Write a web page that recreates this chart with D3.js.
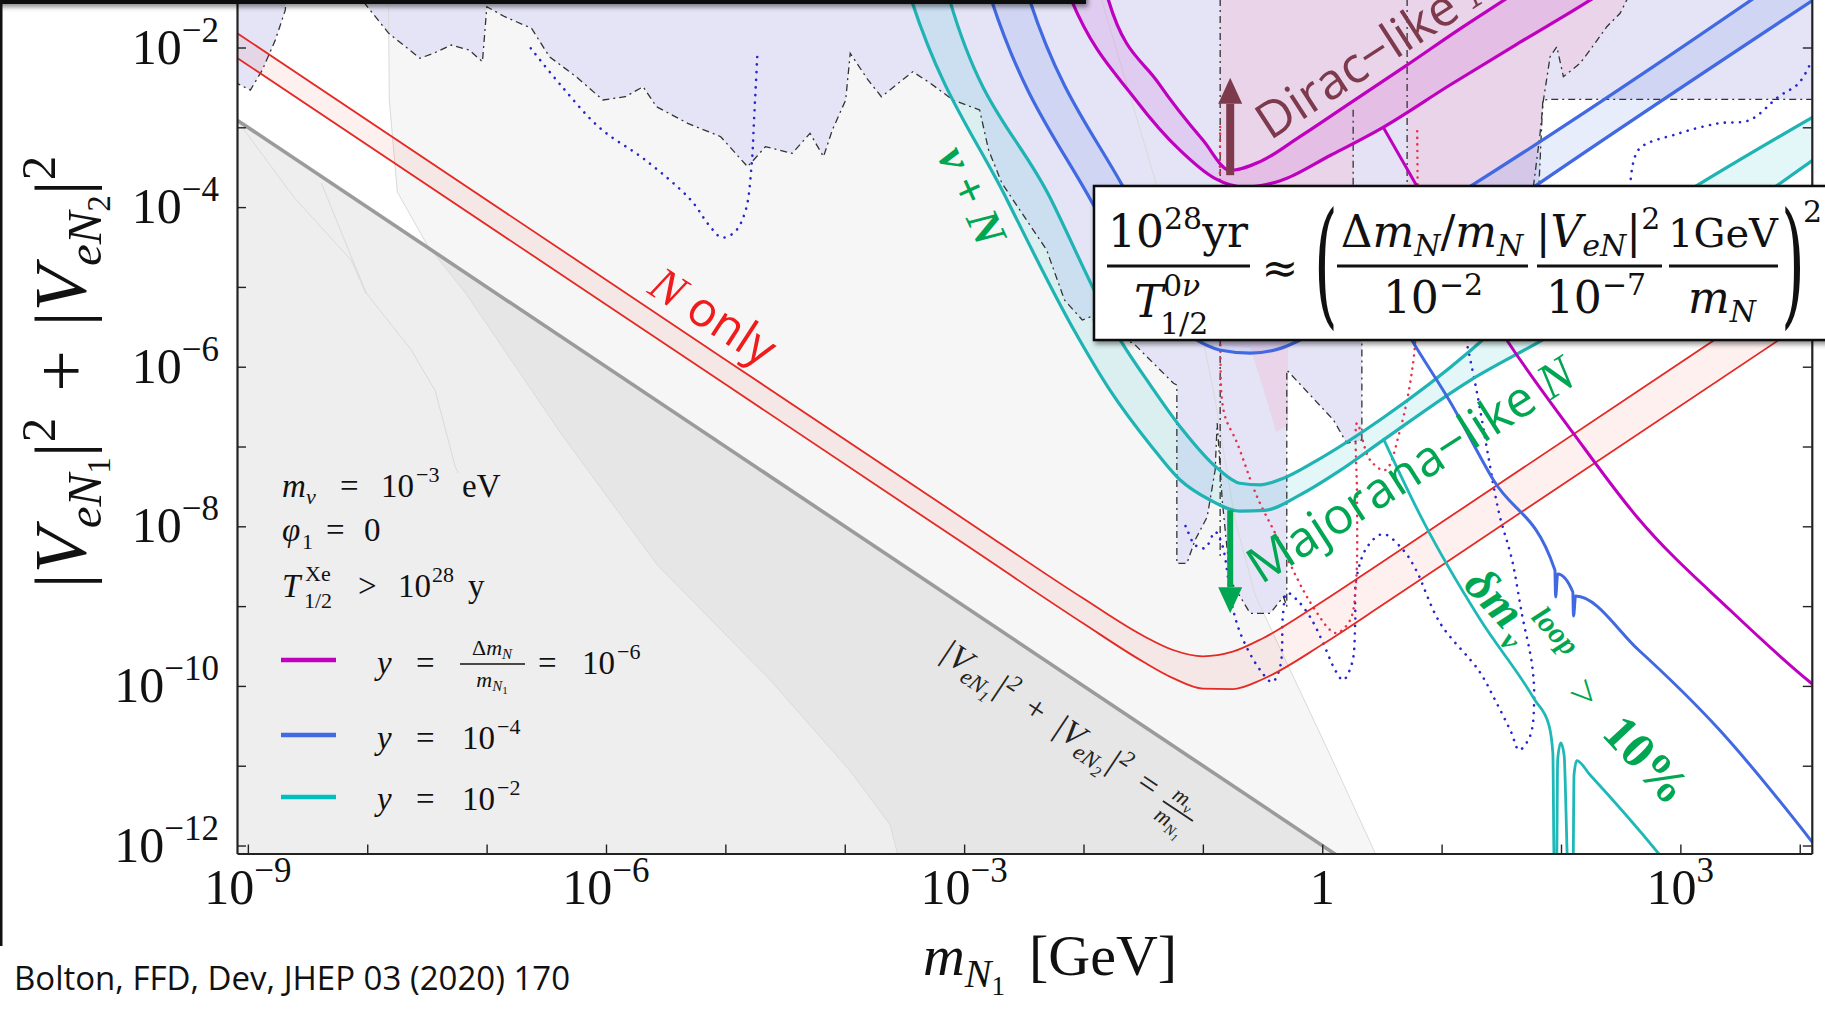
<!DOCTYPE html>
<meta charset="utf-8">
<title>Heavy neutral lepton mixing vs mass</title>
<style>
  body { margin: 0; background: #fff; }
  svg { display: block; }
  .cm { font-family: "Liberation Serif", "DejaVu Serif", serif; }
  .fx { font-family: "DejaVu Serif", serif; }
  .ss { font-family: "Open Sans", "Lato", sans-serif; }
</style>
<body>
<script src="https://cdn.jsdelivr.net/npm/d3@7"></script>
<script>

// all curves are [log10 m_N1/GeV, log10 |V|^2]
var xMajorExps = d3.range(-9, 5);
var xLabelExps = [-9, -6, -3, 0, 3];
var yMajorExps = d3.range(-12, 0);
var yLabelExps = [-2, -4, -6, -8, -10, -12];

var seesaw = [[-9.3,-2.7],[0.3,-12.3]];
var redHi = [[-9.3,-1.61],[-6,-4.91],[-3,-7.91],[-2,-8.906],[-1.5,-9.372],[-1.25,-9.55],[-1.0,-9.629],[-0.75,-9.571],[-0.5,-9.405],[0,-8.945],[0.5,-8.45],[1,-7.95],[4.3,-4.65]];
var redLo = [[-9.3,-1.92],[-6,-5.22],[-3,-8.22],[-2,-9.218],[-1.5,-9.697],[-1.25,-9.902],[-1.0,-10.033],[-0.75,-10.039],[-0.5,-9.916],[0,-9.482],[0.5,-8.99],[1,-8.49],[4.3,-5.19]];
var cyanOut = [[-3.62,-0.53],[-3.44,-1.41],[-2.64,-3.91],[-2.08,-5.54],[-1.78,-6.29],[-1.44,-6.98],[-1.19,-7.42],[-0.94,-7.67],[-0.69,-7.81],[-0.48,-7.80],[-0.19,-7.61],[0.15,-7.30],[0.51,-6.92],[1.24,-6.17],[1.85,-5.66],[4.3,-3.21]];
var cyanIn = [[-3.28,-0.53],[-3.12,-1.41],[-2.27,-3.91],[-1.69,-5.67],[-1.44,-6.23],[-1.17,-6.79],[-0.88,-7.27],[-0.69,-7.46],[-0.52,-7.48],[-0.33,-7.40],[-0.04,-7.17],[0.51,-6.64],[1.24,-5.80],[1.34,-5.67],[4.3,-2.71]];
var blueOut = [[-2.95,-0.53],[-2.77,-1.41],[-1.94,-3.91],[-1.44,-5.16],[-1.08,-5.64],[-0.86,-5.79],[-0.60,-5.83],[-0.35,-5.77],[-0.19,-5.67],[0.52,-5.05],[1.78,-3.74],[4.3,-1.22]];
var blueIn = [[-2.63,-0.53],[-2.45,-1.41],[-1.67,-3.74],[-1.36,-4.54],[-1.11,-4.98],[-0.86,-5.16],[-0.60,-5.19],[-0.27,-5.04],[0.23,-4.64],[0.65,-4.29],[1.24,-3.74],[4.3,-0.68]];
var purpleIn = [[-1.90,-0.65],[-1.79,-1.41],[-1.37,-2.45],[-1.00,-3.16],[-0.77,-3.54],[-0.52,-3.43],[-0.19,-3.12],[0.23,-2.70],[0.70,-2.23],[1.16,-1.76],[1.57,-1.36],[2.33,-0.59]];
var purpleOut = [[-2.20,-1.03],[-2.10,-1.41],[-1.56,-2.66],[-1.19,-3.29],[-0.90,-3.64],[-0.65,-3.75],[-0.35,-3.67],[0.07,-3.35],[0.51,-3.00],[1.07,-2.47],[1.65,-1.94],[2.24,-1.41],[2.75,-0.90]];
var cyanLoop = [[0.510,-6.894],[0.847,-7.939],[1.314,-9.147],[1.781,-10.177],[1.899,-10.490],[1.932,-10.847],[1.942,-12.18],[1.963,-12.31],[1.972,-10.929],[1.998,-10.713],[2.026,-10.866],[2.060,-12.31],[2.101,-12.31],[2.109,-11.117],[2.132,-10.937],[2.244,-11.117],[2.817,-12.10],[2.914,-12.28]];
var blueLoop = [[0.518,-5.052],[0.750,-5.665],[1.071,-6.439],[1.434,-7.420],[1.949,-8.548],[1.955,-8.886],[1.972,-8.598],[2.099,-8.823],[2.105,-9.124],[2.122,-8.873],[2.650,-9.550],[3.317,-10.534],[4.085,-11.919],[4.254,-12.245]];
var purpleLoop = [[0.510,-2.996],[0.796,-3.744],[1.546,-5.665],[2.104,-6.835],[2.635,-7.880],[3.416,-9.049],[4.085,-9.951],[4.254,-10.152]];

// faint constraint contours and shading edges
var contourC1 = [[-7.823,0.1],[-7.823,-1.342],[-7.815,-2.658],[-7.748,-3.811],[-7.497,-4.475],[-7.170,-5.089],[-6.374,-6.843],[-5.570,-8.485],[-4.624,-9.926],[-3.954,-11.066],[-3.619,-11.743],[-3.560,-12.094],[-3.552,-12.307]];
var contourC2 = [[-2.15,0.1],[-1.860,-1.342],[-1.383,-3.748],[-1.065,-5.164],[-0.897,-6.417],[-0.730,-7.921],[-0.562,-8.861],[-0.269,-9.801],[0.066,-10.866],[0.443,-12.094],[0.485,-12.307]];
var contourL3 = [[-9.096,-2.901],[-8.616,-3.873],[-8.135,-4.663],[-8.008,-5.089]];
var contourL4 = [[-8.384,-3.698],[-8.225,-4.287],[-8.008,-5.077],[-7.631,-5.791],[-7.430,-6.305],[-7.262,-7.257],[-7.237,-7.332]];

// excluded regions
var excluded = [[-9.147,0.099],[-9.147,-2.407],[-8.979,-2.533],[-8.879,-2.282],[-8.770,-1.906],[-8.686,-1.530],[-8.627,0.099],[-8.075,0.099],[-8.044,-1.405],[-7.820,-1.822],[-7.559,-2.135],[-7.446,-2.073],[-7.297,-1.969],[-7.147,-2.031],[-7.035,-2.178],[-6.998,-1.489],[-6.848,-1.614],[-6.624,-1.759],[-6.474,-2.115],[-6.250,-2.366],[-6.026,-2.658],[-5.838,-2.617],[-5.689,-2.491],[-5.577,-2.742],[-5.315,-2.950],[-5.039,-3.118],[-4.814,-3.494],[-4.664,-3.243],[-4.440,-3.326],[-4.291,-3.075],[-4.178,-3.368],[-4.104,-3.034],[-3.992,-2.658],[-3.954,-2.073],[-3.805,-2.407],[-3.693,-2.617],[-3.430,-2.303],[-3.281,-2.449],[-3.094,-2.658],[-2.870,-2.783],[-2.795,-3.284],[-2.683,-3.702],[-2.309,-4.537],[-2.159,-5.164],[-2.010,-5.415],[-1.936,-5.373],[-1.860,-5.540],[-1.581,-5.707],[-1.246,-6.208],[-1.218,-6.229],[-1.218,-8.464],[-1.134,-8.464],[-1.065,-8.172],[-0.964,-7.883],[-0.897,-7.295],[-0.880,-6.706],[-0.838,-7.671],[-0.771,-8.673],[-0.604,-9.090],[-0.436,-9.090],[-0.325,-8.882],[-0.297,-9.008],[-0.297,-6.041],[0.094,-6.668],[0.206,-6.960],[0.332,-6.918],[0.332,-5.164],[1.815,-5.164],[1.815,-3.744],[1.848,-2.658],[1.917,-2.649],[4.254,-2.649],[4.254,0.099]];
var diracRegion = [[-0.855,0.099],[2.579,0.099],[2.551,-1.405],[2.495,-1.571],[2.384,-1.739],[2.244,-2.031],[2.160,-2.198],[2.020,-2.366],[1.965,-1.990],[1.909,-2.115],[1.853,-2.658],[1.825,-3.075],[1.769,-3.744],[1.766,-5.164],[-0.286,-5.164],[-0.286,-6.731],[-0.386,-6.818],[-0.503,-6.229],[-0.604,-5.766],[-0.855,-5.728]];
var diracGap = [[0.259,-3.197],[0.711,-2.808],[0.711,-5.164],[0.259,-5.164]];
var wiggly = [[1.769,-3.744],[1.825,-3.075],[1.853,-2.658],[1.909,-2.115],[1.965,-1.990],[2.020,-2.366],[2.160,-2.198],[2.244,-2.031],[2.384,-1.739],[2.495,-1.571],[2.551,-1.405],[2.60,-1.2]];
var vDashes = [[-0.855,0.1,-8.42],[0.259,-2.78,-3.75],[0.711,0.1,-3.75]];

// dotted sensitivity curves
var blueDotA = [[-6.63,-2.01],[-6.38,-2.47],[-6.05,-3.01],[-5.67,-3.41],[-5.29,-3.91],[-5.14,-4.22],[-5.03,-4.38],[-4.92,-4.31],[-4.83,-4.04],[-4.78,-3.47],[-4.76,-2.91],[-4.73,-2.03]];
var blueDotB = [[1.205,-5.665],[1.297,-6.330],[1.389,-7.107],[1.481,-7.834],[1.590,-8.422],[1.674,-9.111],[1.758,-9.738],[1.775,-10.177],[1.741,-10.628],[1.649,-10.803],[1.582,-10.578],[1.448,-10.177],[1.314,-9.813],[0.987,-9.212],[0.786,-8.548],[0.678,-8.297],[0.510,-8.097],[0.376,-8.260],[0.284,-8.673],[0.276,-9.212],[0.250,-9.713],[0.175,-9.926],[0.108,-9.801],[0.008,-9.463],[-0.101,-9.137],[-0.210,-8.924],[-0.294,-8.836],[-0.328,-9.086],[-0.353,-9.763],[-0.420,-9.951],[-0.520,-9.801],[-0.662,-9.425],[-0.746,-9.049],[-0.838,-8.234],[-0.897,-8.071],[-0.981,-8.272],[-1.065,-8.234],[-1.131,-8.046],[-1.165,-7.921]];
var blueDotC = [[2.58,-3.74],[2.65,-3.28],[2.98,-3.08],[3.32,-2.95],[3.58,-2.91],[3.82,-2.62],[3.99,-2.45],[4.09,-2.20]];
var redDot = [[-0.855,-2.996],[-0.855,-5.665],[-0.822,-6.580],[-0.713,-6.956],[-0.545,-7.633],[-0.378,-8.134],[-0.160,-8.798],[-0.043,-9.086],[0.066,-9.299],[0.125,-9.337],[0.234,-9.174],[0.284,-8.673],[0.292,-7.671],[0.292,-6.706],[0.401,-7.169],[0.527,-7.295],[0.652,-6.793],[0.761,-5.954],[0.795,-5.164],[0.795,-2.996]];

var diracArrow = [[-0.771,-3.60],[-0.771,-2.38]];
var majoranaArrow = [[-0.771,-7.80],[-0.771,-9.09]];

// ---------------------------------------------------------------
var W = 1825, H = 1010;
var svg = d3.select("body").append("svg").attr("width", W).attr("height", H);
svg.append("rect").attr("width", W).attr("height", H).attr("fill", "#fff");

var x = d3.scaleLog().domain([Math.pow(10, -9.091), Math.pow(10, 4.101)]).range([237, 1811.8]);
var y = d3.scaleLog().domain([Math.pow(10, -12.1), 1]).range([853.5, -112.1]);
var px = function(d) { return x(Math.pow(10, d[0])); };
var py = function(d) { return y(Math.pow(10, d[1])); };
var smooth = d3.line().x(px).y(py).curve(d3.curveMonotoneX);
var loose = d3.line().x(px).y(py).curve(d3.curveCatmullRom.alpha(0.5));
var poly = d3.line().x(px).y(py);

var defs = svg.append("defs");
defs.append("clipPath").attr("id", "plotClip").append("rect")
  .attr("x", 237).attr("y", -200).attr("width", 1811.8 - 237).attr("height", 853.5 + 200);
defs.append("clipPath").attr("id", "seesawClip").append("path")
  .attr("d", poly([[-9.3,-2.7],[0.3,-12.3],[-9.3,-12.3]]) + "Z");
var sh = defs.append("filter").attr("id", "shadow").attr("x", "-5%").attr("y", "-20%").attr("width", "115%").attr("height", "160%");
sh.append("feDropShadow").attr("dx", 2).attr("dy", 3).attr("stdDeviation", 2.5).attr("flood-opacity", 0.45);

function band(a, b) {
  return smooth(a) + smooth(b.slice().reverse()).replace(/^M/, "L") + "Z";
}

var plot = svg.append("g").attr("clip-path", "url(#plotClip)");

// background shading
plot.append("path").attr("d", poly(contourC1.concat(contourC2.slice().reverse())) + "Z").attr("fill", "#f6f6f6");
plot.append("path").attr("d", poly([[-9.3,-2.7],[0.3,-12.3],[-9.3,-12.3]]) + "Z").attr("fill", "#eeeeee");
plot.append("path").attr("d", poly(contourC1.concat([[5,-12.4],[5,0.1]])) + "Z")
  .attr("fill", "#e6e6e6").attr("clip-path", "url(#seesawClip)");

// excluded regions
plot.append("path").attr("d", poly(excluded) + "Z").attr("fill", "#e4e4f6");
plot.append("path").attr("d", poly(diracRegion) + "Z").attr("fill", "#e9d4ea");
plot.append("path").attr("d", poly(diracGap) + "Z").attr("fill", "#e6e2f6");

[contourC1, contourC2, contourL3, contourL4].forEach(function(c) {
  plot.append("path").attr("d", poly(c)).attr("fill", "none").attr("stroke", "#dadada").attr("stroke-width", 1);
});

// bands
plot.append("path").attr("d", band(redHi, redLo)).attr("fill", "rgba(255,0,0,0.06)");
plot.append("path").attr("d", band(cyanIn, cyanOut)).attr("fill", "rgba(0,180,190,0.11)");
plot.append("path").attr("d", band(blueIn, blueOut)).attr("fill", "rgba(65,105,225,0.12)");
plot.append("path").attr("d", band(purpleIn, purpleOut)).attr("fill", "rgba(191,0,191,0.10)");

// dash-dot boundaries
var dashStyle = function(s) {
  return s.attr("fill", "none").attr("stroke", "#333").attr("stroke-width", 1.3).attr("stroke-dasharray", "7 4 2 4");
};
dashStyle(plot.append("path").attr("d", poly(excluded) + "Z"));
dashStyle(plot.append("path").attr("d", poly(wiggly)));
vDashes.forEach(function(v) {
  dashStyle(plot.append("path").attr("d", poly([[v[0], v[1]], [v[0], v[2]]])));
});

// dotted curves
[blueDotA, blueDotB, blueDotC].forEach(function(c) {
  plot.append("path").attr("d", loose(c)).attr("fill", "none").attr("stroke", "#2626cc")
    .attr("stroke-width", 2.6).attr("stroke-linecap", "round").attr("stroke-dasharray", "0.1 7.5");
});
plot.append("path").attr("d", loose(redDot)).attr("fill", "none").attr("stroke", "#e8304a")
  .attr("stroke-width", 2.5).attr("stroke-linecap", "round").attr("stroke-dasharray", "0.1 6.5");

// seesaw line
plot.append("path").attr("d", poly(seesaw)).attr("stroke", "#9b9b9b").attr("stroke-width", 3.6);

// curves
function curve(data, color, w) {
  plot.append("path").attr("d", smooth(data)).attr("fill", "none").attr("stroke", color)
    .attr("stroke-width", w).attr("stroke-linejoin", "round");
}
curve(redHi, "#e42a24", 1.8); curve(redLo, "#e42a24", 1.8);
curve(cyanOut, "#1fb3b3", 3.2); curve(cyanIn, "#1fb3b3", 3.2); curve(cyanLoop, "#1fb8b8", 2.8);
curve(blueOut, "#4169e1", 3.2); curve(blueIn, "#4169e1", 3.2); curve(blueLoop, "#4169e1", 3);
curve(purpleIn, "#bf00bf", 3.2); curve(purpleOut, "#bf00bf", 3.2); curve(purpleLoop, "#bf00bf", 3);

// arrows
function arrow(a, color, w) {
  var x0 = px(a[0]), y0 = py(a[0]), y1 = py(a[1]);
  var dir = y1 < y0 ? -1 : 1, head = 26;
  plot.append("line").attr("x1", x0).attr("y1", y0).attr("x2", x0).attr("y2", y1 - dir * head)
    .attr("stroke", color).attr("stroke-width", w);
  plot.append("path").attr("d", "M" + x0 + "," + y1 + "L" + (x0 - 12) + "," + (y1 - dir * head) + "L" + (x0 + 12) + "," + (y1 - dir * head) + "Z")
    .attr("fill", color);
}
arrow(diracArrow, "#7d3a4c", 8);
arrow(majoranaArrow, "#00a651", 6);

// rich text helper
function runs(t, list) {
  list.forEach(function(r) {
    var s = t.append("tspan").text(r.t);
    if (r.x != null) s.attr("x", r.x);
    if (r.y != null) s.attr("y", r.y);
    if (r.dx != null) s.attr("dx", r.dx);
    if (r.dy != null) s.attr("dy", r.dy);
    if (r.fs) s.attr("font-size", r.fs);
    if (r.it) s.attr("font-style", "italic");
    if (r.bold) s.attr("font-weight", "bold");
    if (r.cls) s.attr("class", r.cls);
  });
  return t;
}

// annotations inside plot
var g;
g = plot.append("g").attr("transform", "translate(646,292) rotate(33)");
runs(g.append("text").attr("fill", "#f01c1c").attr("font-size", 48), [
  {t: "N", it: true, cls: "cm"}, {t: " only", cls: "ss"}]);

g = plot.append("g").attr("transform", "translate(958,202) rotate(65.5)");
g.append("text").attr("class", "cm").attr("text-anchor", "middle").attr("font-size", 46)
  .attr("font-weight", "bold").attr("font-style", "italic").attr("fill", "#00a651").text("ν + N");

g = plot.append("g").attr("transform", "translate(1261,585) rotate(-32.5)");
runs(g.append("text").attr("fill", "#00a651").attr("font-size", 50), [
  {t: "Majorana\u2212like ", cls: "ss"}, {t: "N", it: true, cls: "cm"}]);

g = plot.append("g").attr("transform", "translate(1270,141) rotate(-33)");
runs(g.append("text").attr("fill", "#7d3a4c").attr("font-size", 50), [
  {t: "Dirac\u2212like ", cls: "ss"}, {t: "N", it: true, cls: "cm"}]);

g = plot.append("g").attr("transform", "translate(1462,586) rotate(47)")
  .attr("fill", "#00a651").attr("class", "cm").attr("font-weight", "bold").attr("font-style", "italic");
g.append("text").attr("font-size", 48).text("δm");
g.append("text").attr("x", 66).attr("y", 12).attr("font-size", 30).text("ν");
g.append("text").attr("x", 70).attr("y", -28).attr("font-size", 30).text("loop");
g.append("text").attr("x", 150).attr("y", -2).attr("font-size", 44).attr("font-weight", "normal").attr("font-style", "normal").text(">");
g.append("text").attr("x", 203).attr("y", 0).attr("font-size", 50).attr("font-style", "normal").text("10%");

g = plot.append("g").attr("transform", "translate(938,657) rotate(33.7)").attr("class", "cm").attr("fill", "#222");
var sl = runs(g.append("text").attr("font-size", 34).attr("font-style", "italic"), [
  {t: "|V"}, {t: "eN", fs: 23, dy: 8}, {t: "1", fs: 16, dy: 5}, {t: "|", fs: 34, dy: -13}, {t: "2", fs: 23, dy: -13},
  {t: "+", fs: 34, dy: 13, dx: 14}, {t: "|V", dx: 14}, {t: "eN", fs: 23, dy: 8}, {t: "2", fs: 16, dy: 5}, {t: "|", fs: 34, dy: -13},
  {t: "2", fs: 23, dy: -13}, {t: "=", fs: 34, dy: 13, dx: 14}]);
var slw = sl.node().getComputedTextLength() + 42 + 12;
runs(g.append("text").attr("x", slw + 3).attr("y", -12).attr("font-size", 22).attr("font-style", "italic"), [{t: "m"}, {t: "ν", fs: 15, dy: 5}]);
g.append("line").attr("x1", slw - 2).attr("x2", slw + 34).attr("y1", -5).attr("y2", -5).attr("stroke", "#222").attr("stroke-width", 1.8);
runs(g.append("text").attr("x", slw - 1).attr("y", 15).attr("font-size", 22).attr("font-style", "italic"), [{t: "m"}, {t: "N", fs: 15, dy: 5}, {t: "1", fs: 11, dy: 3}]);

// axes
var tickStyle = function(s) {
  s.select(".domain").attr("stroke", "#222").attr("stroke-width", 2.2);
  s.selectAll(".tick line").attr("stroke", "#222").attr("stroke-width", 1.4);
  s.selectAll(".tick text").remove();
};
svg.append("g").attr("transform", "translate(0,853.5)")
  .call(d3.axisBottom(x).tickValues(xMajorExps.map(function(e) { return Math.pow(10, e); })).tickSize(-9).tickSizeOuter(0))
  .call(tickStyle);
svg.append("g").attr("transform", "translate(237,0)")
  .call(d3.axisLeft(y).tickValues(yMajorExps.map(function(e) { return Math.pow(10, e); })).tickSize(-9).tickSizeOuter(0))
  .call(tickStyle);
svg.append("g").attr("transform", "translate(1811.8,0)")
  .call(d3.axisRight(y).tickValues(yMajorExps.map(function(e) { return Math.pow(10, e); })).tickSize(-9).tickSizeOuter(0))
  .call(tickStyle);

function expRuns(e) {
  if (e === 0) return [{t: "1"}];
  return [{t: "10"}, {t: (e < 0 ? "\u2212" : "") + Math.abs(e), fs: 35, dy: -22}];
}
xLabelExps.forEach(function(e) {
  runs(svg.append("text").attr("class", "cm").attr("font-size", 50).attr("fill", "#111")
    .attr("text-anchor", "middle").attr("x", x(Math.pow(10, e))).attr("y", 904), expRuns(e));
});
yLabelExps.forEach(function(e) {
  runs(svg.append("text").attr("class", "cm").attr("font-size", 50).attr("fill", "#111")
    .attr("text-anchor", "end").attr("x", 219).attr("y", y(Math.pow(10, e)) + 16), expRuns(e));
});

// axis titles
runs(svg.append("text").attr("class", "cm").attr("font-size", 74).attr("fill", "#111").attr("text-anchor", "middle")
  .attr("transform", "translate(86,372) rotate(-90)"), [
  {t: "|"}, {t: "V", it: true}, {t: "eN", it: true, fs: 49, dy: 15}, {t: "1", fs: 33, dy: 9}, {t: "|", fs: 74, dy: -24},
  {t: "2", fs: 49, dy: -31}, {t: "+", fs: 74, dy: 31, dx: 26}, {t: "|", dx: 24}, {t: "V", it: true},
  {t: "eN", it: true, fs: 49, dy: 15}, {t: "2", fs: 33, dy: 9}, {t: "|", fs: 74, dy: -24}, {t: "2", fs: 49, dy: -31}]);
runs(svg.append("text").attr("class", "cm").attr("font-size", 58).attr("fill", "#111").attr("text-anchor", "middle")
  .attr("x", 1050).attr("y", 975), [
  {t: "m", it: true}, {t: "N", it: true, fs: 40, dy: 12}, {t: "1", fs: 27, dy: 8}, {t: "[GeV]", fs: 58, dy: -20, dx: 24}]);

// legend
var lg = svg.append("g").attr("class", "cm").attr("fill", "#111").attr("font-size", 33);
runs(lg.append("text"), [
  {t: "m", it: true, x: 282, y: 497}, {t: "ν", it: true, fs: 22, x: 306, y: 504}, {t: "=", x: 340, y: 497, fs: 33},
  {t: "10", x: 381, y: 497}, {t: "\u22123", fs: 22, x: 416, y: 482}, {t: "eV", fs: 33, x: 462, y: 497}]);
runs(lg.append("text"), [
  {t: "φ", it: true, x: 282, y: 541}, {t: "1", fs: 22, x: 302, y: 549}, {t: "=", fs: 33, x: 326, y: 541}, {t: "0", x: 364, y: 541}]);
runs(lg.append("text"), [
  {t: "T", it: true, x: 282, y: 597}, {t: "Xe", fs: 22, x: 305, y: 581}, {t: "1/2", fs: 22, x: 304, y: 608},
  {t: ">", fs: 33, x: 358, y: 597}, {t: "10", x: 398, y: 597}, {t: "28", fs: 22, x: 432, y: 582}, {t: "y", fs: 33, x: 468, y: 597}]);

var legendRows = [
  {color: "#bf00bf", y: 660},
  {color: "#4169e1", y: 735},
  {color: "#00bfbf", y: 797}];
legendRows.forEach(function(r) {
  lg.append("line").attr("x1", 281).attr("x2", 336).attr("y1", r.y).attr("y2", r.y)
    .attr("stroke", r.color).attr("stroke-width", 4.5);
});
runs(lg.append("text"), [{t: "y", it: true, x: 377, y: 674}, {t: "=", x: 416, y: 674}, {t: "=", x: 538, y: 674},
  {t: "10", x: 582, y: 674}, {t: "\u22126", fs: 22, x: 617, y: 659}]);
runs(lg.append("text").attr("text-anchor", "middle").attr("x", 492).attr("y", 655).attr("font-size", 22), [
  {t: "Δ"}, {t: "m", it: true}, {t: "N", it: true, fs: 15, dy: 4}]);
lg.append("line").attr("x1", 460).attr("x2", 525).attr("y1", 664).attr("y2", 664).attr("stroke", "#111").attr("stroke-width", 1.6);
runs(lg.append("text").attr("text-anchor", "middle").attr("x", 492).attr("y", 687).attr("font-size", 22), [
  {t: "m", it: true}, {t: "N", it: true, fs: 15, dy: 4}, {t: "1", fs: 11, dy: 3}]);
runs(lg.append("text"), [{t: "y", it: true, x: 377, y: 749}, {t: "=", x: 416, y: 749},
  {t: "10", x: 462, y: 749}, {t: "\u22124", fs: 22, x: 497, y: 734}]);
runs(lg.append("text"), [{t: "y", it: true, x: 377, y: 810}, {t: "=", x: 416, y: 810},
  {t: "10", x: 462, y: 810}, {t: "\u22122", fs: 22, x: 497, y: 795}]);

// formula box
var fb = svg.append("g").attr("class", "fx").attr("fill", "#111");
fb.append("rect").attr("x", 1094).attr("y", 186).attr("width", 760).attr("height", 154)
  .attr("fill", "#fff").attr("stroke", "#111").attr("stroke-width", 2.5).attr("filter", "url(#shadow)");
function bar(x1, x2) {
  fb.append("line").attr("x1", x1).attr("x2", x2).attr("y1", 266).attr("y2", 266).attr("stroke", "#111").attr("stroke-width", 3);
}
runs(fb.append("text").attr("text-anchor", "middle").attr("x", 1178).attr("y", 247).attr("font-size", 44), [
  {t: "10"}, {t: "28", fs: 30, dy: -18}, {t: "yr", fs: 44, dy: 18}]);
bar(1107, 1250);
fb.append("text").attr("x", 1134).attr("y", 317).attr("font-size", 44).attr("font-style", "italic").text("T");
runs(fb.append("text").attr("x", 1163).attr("y", 296).attr("font-size", 30), [{t: "0"}, {t: "ν", it: true}]);
fb.append("text").attr("x", 1160).attr("y", 334).attr("font-size", 30).text("1/2");
fb.append("text").attr("x", 1280).attr("y", 283).attr("font-size", 44).attr("text-anchor", "middle").text("≈");
fb.append("text").attr("transform", "translate(1314,310) scale(0.45,1)").attr("font-size", 136).text("(");
runs(fb.append("text").attr("text-anchor", "middle").attr("x", 1432).attr("y", 247).attr("font-size", 44), [
  {t: "Δ"}, {t: "m", it: true}, {t: "N", it: true, fs: 30, dy: 9}, {t: "/", fs: 44, dy: -9}, {t: "m", it: true}, {t: "N", it: true, fs: 30, dy: 9}]);
bar(1337, 1528);
runs(fb.append("text").attr("text-anchor", "middle").attr("x", 1433).attr("y", 313).attr("font-size", 44), [
  {t: "10"}, {t: "\u22122", fs: 30, dy: -18}]);
runs(fb.append("text").attr("text-anchor", "middle").attr("x", 1598).attr("y", 247).attr("font-size", 44), [
  {t: "|"}, {t: "V", it: true}, {t: "eN", it: true, fs: 30, dy: 9}, {t: "|", fs: 44, dy: -9}, {t: "2", fs: 30, dy: -18}]);
bar(1537, 1662);
runs(fb.append("text").attr("text-anchor", "middle").attr("x", 1596).attr("y", 313).attr("font-size", 44), [
  {t: "10"}, {t: "\u22127", fs: 30, dy: -18}]);
fb.append("text").attr("text-anchor", "middle").attr("x", 1723).attr("y", 247).attr("font-size", 40).text("1GeV");
bar(1669, 1778);
runs(fb.append("text").attr("text-anchor", "middle").attr("x", 1722).attr("y", 313).attr("font-size", 44), [
  {t: "m", it: true}, {t: "N", it: true, fs: 30, dy: 9}]);
fb.append("text").attr("transform", "translate(1781,310) scale(0.45,1)").attr("font-size", 136).text(")");
fb.append("text").attr("x", 1803).attr("y", 222).attr("font-size", 30).text("2");

// slide frame and citation
svg.append("rect").attr("x", -10).attr("y", -20).attr("width", 1096).attr("height", 24).attr("fill", "#111").attr("filter", "url(#shadow)");
svg.append("rect").attr("x", 0).attr("y", 0).attr("width", 2.5).attr("height", 946).attr("fill", "#111");
svg.append("text").attr("class", "ss").attr("x", 14).attr("y", 990).attr("font-size", 33).attr("fill", "#111")
  .text("Bolton, FFD, Dev, JHEP 03 (2020) 170");

</script>
</body>
